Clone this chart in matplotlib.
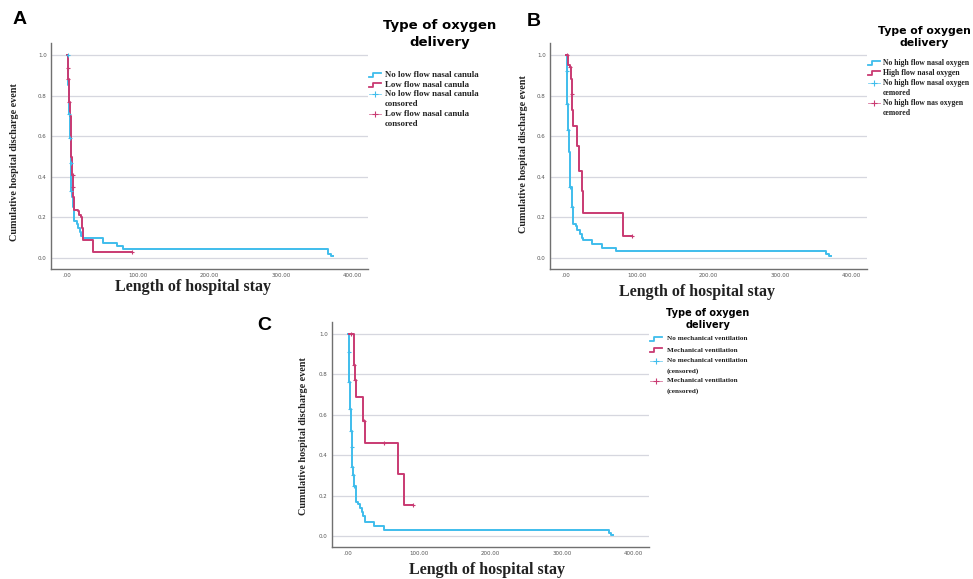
import matplotlib
matplotlib.use("Agg")
import matplotlib.pyplot as plt
from matplotlib.lines import Line2D

W, H = 973, 579

# ---- data ----
# panel A: low flow nasal canula
a_blue_t = [0, 2, 3, 4, 5, 6, 7, 8, 10, 14, 16, 18, 20, 22, 50, 70, 79, 367, 370, 373]
a_blue_v = [1.0, 0.85, 0.71, 0.59, 0.47, 0.33, 0.30, 0.25, 0.18, 0.17, 0.15, 0.13, 0.11, 0.10, 0.075, 0.059, 0.044, 0.02, 0.01, 0.01]
a_blue_ct = [1, 3, 4, 5, 6]
a_blue_cv = [1.0, 0.71, 0.59, 0.47, 0.33]
a_red_t = [0, 1, 2, 3, 4, 5, 6, 7, 8, 9, 10, 15, 17, 19, 21, 23, 37, 91]
a_red_v = [1.0, 0.937, 0.88, 0.77, 0.70, 0.60, 0.50, 0.41, 0.35, 0.30, 0.236, 0.23, 0.21, 0.20, 0.15, 0.09, 0.031, 0.031]
a_red_ct = [1, 2, 3, 8, 9, 91]
a_red_cv = [0.937, 0.88, 0.77, 0.41, 0.35, 0.031]

# panel B: high flow nasal oxygen
b_blue_t = [0, 1, 2, 3, 4, 5, 6, 8, 10, 14, 16, 19, 22, 24, 36, 50, 70, 365, 369, 372]
b_blue_v = [1.0, 0.92, 0.76, 0.63, 0.52, 0.44, 0.35, 0.25, 0.17, 0.16, 0.14, 0.12, 0.10, 0.089, 0.069, 0.049, 0.036, 0.02, 0.01, 0.01]
b_blue_ct = [1, 2, 3, 6, 8]
b_blue_cv = [0.92, 0.76, 0.63, 0.35, 0.25]
b_red_t = [0, 3, 5, 7, 8, 9, 10, 16, 18, 22, 24, 80, 92]
b_red_v = [1.0, 0.95, 0.94, 0.88, 0.81, 0.73, 0.65, 0.55, 0.43, 0.33, 0.22, 0.11, 0.11]
b_red_ct = [1, 5, 8, 92]
b_red_cv = [1.0, 0.94, 0.81, 0.11]

# panel C: mechanical ventilation
c_blue_t = [0, 1, 2, 3, 4, 5, 6, 7, 8, 11, 14, 17, 19, 21, 24, 37, 51, 366, 369, 372]
c_blue_v = [1.0, 0.91, 0.76, 0.63, 0.52, 0.44, 0.34, 0.30, 0.25, 0.17, 0.16, 0.14, 0.12, 0.10, 0.071, 0.051, 0.03, 0.015, 0.005, 0.005]
c_blue_ct = [1, 2, 3, 4, 5, 6, 7, 8]
c_blue_cv = [0.91, 0.76, 0.63, 0.52, 0.44, 0.34, 0.30, 0.25]
c_red_t = [2, 8, 9, 10, 11, 21, 24, 70, 79, 91]
c_red_v = [1.0, 0.924, 0.848, 0.772, 0.687, 0.571, 0.459, 0.307, 0.152, 0.152]
c_red_ct = [4, 9, 10, 22, 50, 91]
c_red_cv = [1.0, 0.848, 0.772, 0.571, 0.459, 0.152]

x_ticks = [0, 100, 200, 300, 400]
x_ticklabels = [".00", "100.00", "200.00", "300.00", "400.00"]
y_ticks = [0.0, 0.2, 0.4, 0.6, 0.8, 1.0]
y_ticklabels = ["0.0", "0.2", "0.4", "0.6", "0.8", "1.0"]

legend_a = ["No low flow nasal canula", "Low flow nasal canula",
            "No low flow nasal canula", "consored", "Low flow nasal canula", "consored"]
legend_b = ["No high flow nasal oxygen", "High flow nasal oxygen",
            "No high flow nasal oxygen", "cemored", "No high flow nas oxygen", "cemored"]
legend_c = ["No mechanical ventilation", "Mechanical ventilation",
            "No mechanical ventilation", "(censored)", "Mechanical ventilation", "(censored)"]

BLUE = "#3fbdec"
RED = "#c93a72"
SERIF = "Liberation Serif"

fig = plt.figure(figsize=(W / 100, H / 100), dpi=100)


def fx(x):
    return x / W


def fy(y):
    return 1 - y / H


def panel(left, right, top, bottom, bt, bv, bct, bcv, rt, rv, rct, rcv):
    ax = fig.add_axes([fx(left), fy(bottom), (right - left) / W, (bottom - top) / H])
    ax.set_xlim(-22.5, 422.5)
    ax.set_ylim(-0.054, 1.059)
    for y in y_ticks:
        ax.axhline(y, color="#d6d7df", lw=0.9, zorder=0)
    ax.step(bt, bv, where="post", color=BLUE, lw=1.4, zorder=2)
    ax.step(rt, rv, where="post", color=RED, lw=1.4, zorder=3)
    ax.plot(bct, bcv, linestyle="None", marker="+", ms=3.5, mew=0.8, color=BLUE, zorder=4)
    ax.plot(rct, rcv, linestyle="None", marker="+", ms=3.5, mew=0.8, color=RED, zorder=4)
    ax.set_xticks(x_ticks)
    ax.set_xticklabels(x_ticklabels)
    ax.set_yticks(y_ticks)
    ax.set_yticklabels(y_ticklabels)
    ax.tick_params(length=0, labelsize=4, labelcolor="#555555", pad=3)
    ax.spines["top"].set_visible(False)
    ax.spines["right"].set_visible(False)
    for s in ("left", "bottom"):
        ax.spines[s].set_color("#707070")
        ax.spines[s].set_linewidth(1.0)
    ax.set_facecolor("none")
    return ax


def legend(title_x, title_y, tsize, hx, tx, rows, labels, lsize):
    fig.text(fx(title_x), fy(title_y), "Type of oxygen\ndelivery", ha="center", va="center",
             fontsize=tsize, fontweight="heavy", family="DejaVu Sans", linespacing=1.35)
    # step shaped handles for the two curves
    for i, col in enumerate([BLUE, RED]):
        y = rows[i]
        xs = [hx, hx + 4, hx + 4, hx + 12]
        ys = [y + 2, y + 2, y - 2, y - 2]
        fig.add_artist(Line2D([fx(v) for v in xs], [fy(v) for v in ys], color=col, lw=1.3))
    # censored handles
    for i, col in zip([2, 4], [BLUE, RED]):
        y = rows[i]
        fig.add_artist(Line2D([fx(hx), fx(hx + 12)], [fy(y), fy(y)], color=col, lw=0.6, alpha=0.7))
        fig.add_artist(Line2D([fx(hx + 6)], [fy(y)], color=col, marker="+", ms=5, mew=0.8))
    for lab, y in zip(labels, rows):
        fig.text(fx(tx), fy(y), lab, ha="left", va="center", fontsize=lsize,
                 family=SERIF, fontweight="bold", color="#222222")


# panel A
panel(51, 368, 43, 269, a_blue_t, a_blue_v, a_blue_ct, a_blue_cv, a_red_t, a_red_v, a_red_ct, a_red_cv)
fig.text(fx(20), fy(19), "A", ha="center", va="center", fontsize=14, fontweight="bold", family="Liberation Sans")
fig.text(fx(15), fy(162), "Cumulative hospital discharge event", rotation=90, ha="center", va="center",
         fontsize=7.3, family=SERIF, fontweight="bold", color="#222222")
fig.text(fx(193), fy(287), "Length of hospital stay", ha="center", va="center",
         fontsize=11.5, family=SERIF, fontweight="bold", color="#222222")
legend(440, 34, 9.5, 369, 385, [75, 85, 94, 104, 114, 124], legend_a, 6.3)

# panel B
panel(550, 867, 43, 269, b_blue_t, b_blue_v, b_blue_ct, b_blue_cv, b_red_t, b_red_v, b_red_ct, b_red_cv)
fig.text(fx(534), fy(22), "B", ha="center", va="center", fontsize=14, fontweight="bold", family="Liberation Sans")
fig.text(fx(524), fy(154), "Cumulative hospital discharge event", rotation=90, ha="center", va="center",
         fontsize=7.3, family=SERIF, fontweight="bold", color="#222222")
fig.text(fx(697), fy(292), "Length of hospital stay", ha="center", va="center",
         fontsize=11.5, family=SERIF, fontweight="bold", color="#222222")
legend(924, 37, 7.8, 868, 883, [63, 73, 83, 93, 103, 113], legend_b, 5.6)

# panel C
panel(332, 649, 322, 547, c_blue_t, c_blue_v, c_blue_ct, c_blue_cv, c_red_t, c_red_v, c_red_ct, c_red_cv)
fig.text(fx(264), fy(325), "C", ha="center", va="center", fontsize=14, fontweight="bold", family="Liberation Sans")
fig.text(fx(303), fy(436), "Cumulative hospital discharge event", rotation=90, ha="center", va="center",
         fontsize=7.3, family=SERIF, fontweight="bold", color="#222222")
fig.text(fx(487), fy(570), "Length of hospital stay", ha="center", va="center",
         fontsize=11.5, family=SERIF, fontweight="bold", color="#222222")
legend(708, 319, 7, 650, 667, [339, 350, 361, 371, 381, 391], legend_c, 5.2)

fig.savefig("out.png", dpi=100)
